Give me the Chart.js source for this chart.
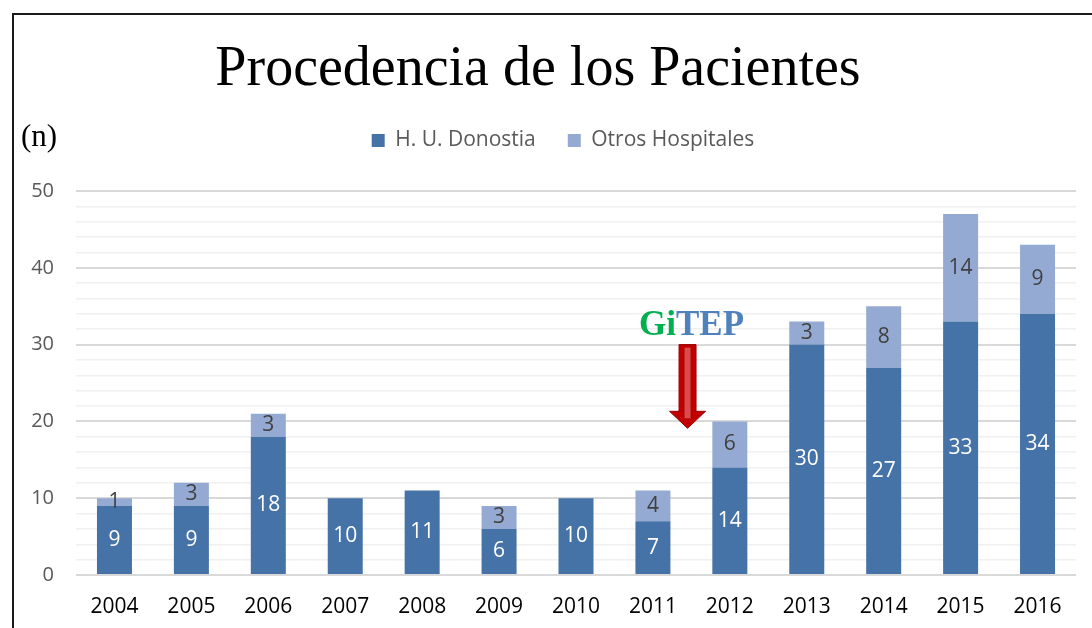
<!DOCTYPE html>
<html>
<head>
<meta charset="utf-8">
<script src="https://cdn.jsdelivr.net/npm/chart.js@4.4.1/dist/chart.umd.min.js"></script>
<style>
  html, body { margin: 0; padding: 0; background: #fff; }
  #wrap { width: 1092px; height: 628px; }
</style>
</head>
<body>
<div id="wrap"><canvas id="chart"></canvas></div>
<script>
// data
const years = ['2004', '2005', '2006', '2007', '2008', '2009', '2010', '2011', '2012', '2013', '2014', '2015', '2016'];
const donostia = [9, 9, 18, 10, 11, 6, 10, 7, 14, 30, 27, 33, 34];
const otros = [1, 3, 3, 0, 0, 3, 0, 4, 6, 3, 8, 14, 9];

// GiTEP marker (in data units: between 2011 and 2012)
const markerX = 7.45;
const markerTop = 30;
const markerTip = 19.1;
const markerTextY = 32.4;

const darkBlue = '#4572A7';
const lightBlue = '#94AAD2';

// value labels inside the segments
const barLabels = {
	id: 'barLabels',
	afterDatasetsDraw(chart) {
		const ctx = chart.ctx;
		ctx.save();
		ctx.font = '21px "Open Sans"';
		ctx.textAlign = 'center';
		ctx.textBaseline = 'middle';
		chart.data.datasets.forEach((ds, i) => {
			const meta = chart.getDatasetMeta(i);
			meta.data.forEach((bar, j) => {
				const v = ds.data[j];
				if (!v) return;
				const mid = (bar.y + bar.base) / 2;
				ctx.fillStyle = i === 0 ? '#ffffff' : '#404040';
				ctx.fillText(String(v), bar.x, mid);
			});
		});
		ctx.restore();
	}
};

// fixed legend box height, legend nudged right like the original
const legendTweak = {
	id: 'legendTweak',
	beforeInit(chart) {
		const legend = chart.legend;
		const fit = legend.fit;
		legend.fit = function () {
			fit.bind(legend)();
			this.height = 93;
		};
		const draw = legend.draw;
		legend.draw = function () {
			chart.ctx.save();
			chart.ctx.translate(15, 0);
			draw.bind(legend)();
			chart.ctx.restore();
		};
	}
};

// frame, title, (n) label and the GiTEP arrow
const extras = {
	id: 'extras',
	afterDraw(chart) {
		const ctx = chart.ctx;
		const x = chart.scales.x;
		const y = chart.scales.y;
		ctx.save();

		// frame
		ctx.strokeStyle = '#1a1a1a';
		ctx.lineWidth = 2;
		ctx.beginPath();
		ctx.moveTo(13, chart.height);
		ctx.lineTo(13, 14);
		ctx.lineTo(chart.width, 14);
		ctx.stroke();

		// title
		ctx.fillStyle = '#000';
		ctx.font = '56px "Liberation Serif"';
		ctx.textAlign = 'center';
		ctx.textBaseline = 'middle';
		ctx.fillText('Procedencia de los Pacientes', 538, 70);

		// axis unit
		ctx.font = '31px "Liberation Serif"';
		ctx.textAlign = 'left';
		ctx.fillText('(n)', 21, 138);

		// GiTEP text
		const cx = x.getPixelForValue(markerX);
		ctx.font = 'bold 35px "Liberation Serif"';
		const w1 = ctx.measureText('Gi').width;
		const w2 = ctx.measureText('TEP').width;
		const tx = cx + 4 - (w1 + w2) / 2;
		const ty = y.getPixelForValue(markerTextY);
		ctx.fillStyle = '#00B050';
		ctx.fillText('Gi', tx, ty);
		ctx.fillStyle = '#4F81BD';
		ctx.fillText('TEP', tx + w1, ty);

		// arrow
		const top = y.getPixelForValue(markerTop);
		const tip = y.getPixelForValue(markerTip);
		const headTop = tip - 17;
		ctx.beginPath();
		ctx.moveTo(cx - 8.5, top);
		ctx.lineTo(cx + 8.5, top);
		ctx.lineTo(cx + 8.5, headTop);
		ctx.lineTo(cx + 18, headTop);
		ctx.lineTo(cx, tip);
		ctx.lineTo(cx - 18, headTop);
		ctx.lineTo(cx - 8.5, headTop);
		ctx.closePath();
		ctx.fillStyle = '#C00000';
		ctx.fill();
		ctx.strokeStyle = '#9a0000';
		ctx.lineWidth = 1;
		ctx.stroke();
		// lighter inner stripe
		ctx.fillStyle = 'rgba(225,110,110,0.7)';
		ctx.fillRect(cx - 3, top + 3, 6, headTop - top + 4);

		ctx.restore();
	}
};

new Chart(document.getElementById('chart'), {
	type: 'bar',
	data: {
		labels: years,
		datasets: [
			{
				label: 'H. U. Donostia',
				data: donostia,
				backgroundColor: darkBlue,
				barPercentage: 0.455,
				categoryPercentage: 1
			},
			{
				label: 'Otros Hospitales',
				data: otros,
				backgroundColor: lightBlue,
				barPercentage: 0.455,
				categoryPercentage: 1
			}
		]
	},
	options: {
		responsive: true,
		maintainAspectRatio: false,
		animation: false,
		layout: {
			padding: { left: 20, right: 16, top: 98, bottom: 0 }
		},
		plugins: {
			title: { display: false },
			legend: {
				position: 'top',
				labels: {
					boxWidth: 13,
					boxHeight: 13,
					color: '#595959',
					font: { family: 'Open Sans', size: 21 },
					padding: 32
				}
			},
			tooltip: { enabled: false }
		},
		scales: {
			x: {
				stacked: true,
				afterFit(scale) { scale.height = 53; },
				grid: { display: false, drawTicks: false },
				border: { display: false },
				ticks: {
					color: '#000',
					font: { family: 'Open Sans', size: 21 },
					padding: 19
				}
			},
			y: {
				stacked: true,
				min: 0,
				max: 50,
				border: { display: false },
				afterFit(scale) { scale.width = 56; },
				grid: {
					color: ctx => (ctx.tick.value % 10 === 0 ? '#D9D9D9' : '#F0F0F0'),
					lineWidth: ctx => (ctx.tick.value % 10 === 0 ? 2 : 1.5),
					drawTicks: false
				},
				ticks: {
					stepSize: 2,
					autoSkip: false,
					color: '#595959',
					font: { family: 'Open Sans', size: 20 },
					padding: 22,
					callback: v => (v % 10 === 0 ? v : '')
				}
			}
		}
	},
	plugins: [barLabels, legendTweak, extras]
});
</script>
</body>
</html>
